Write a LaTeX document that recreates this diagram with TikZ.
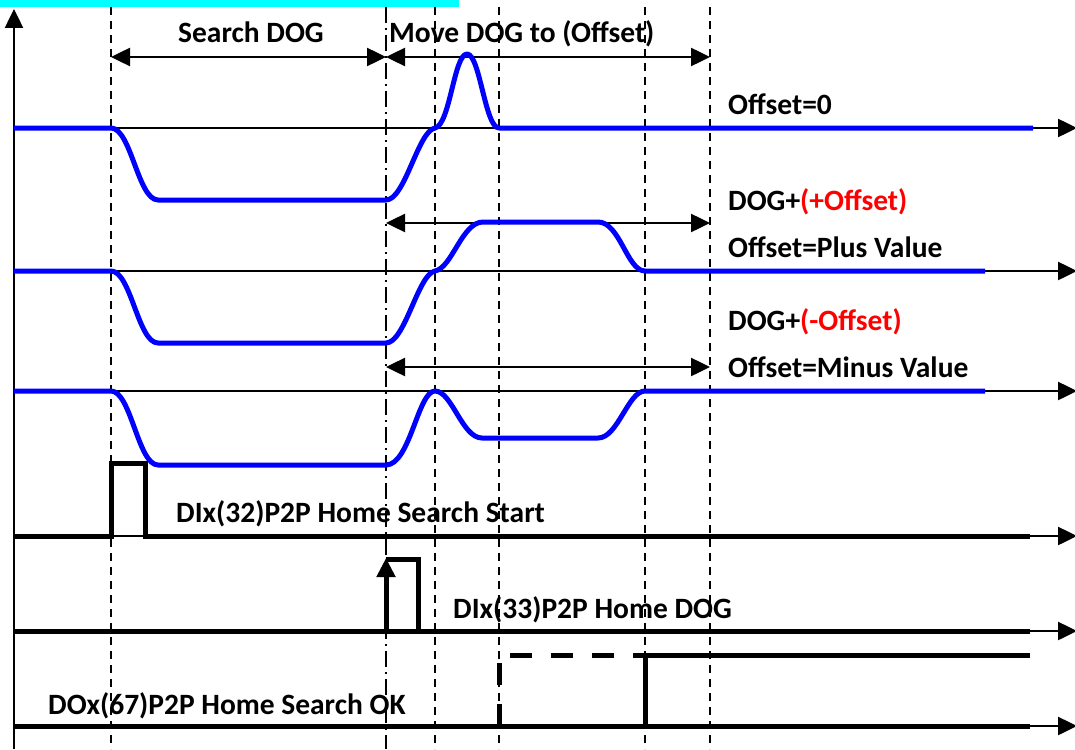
\documentclass[tikz,border=0pt]{standalone}
\usepackage{fontspec}
\setmainfont{Carlito}
\usetikzlibrary{arrows.meta}
\definecolor{sigblue}{RGB}{0,0,255}
\definecolor{topcyan}{RGB}{0,255,255}
\definecolor{offred}{RGB}{255,0,0}
\begin{document}
\begin{tikzpicture}[x=1pt,y=-1pt,
  lbl/.style={anchor=base west, inner sep=0pt, font=\fontsize{29.5}{34}\selectfont\bfseries},
  guide/.style={line width=1.8pt, dash pattern=on 8pt off 6pt},
  guidedd/.style={line width=1.8pt, dash pattern=on 16pt off 5pt on 2pt off 5pt},
  axisline/.style={line width=2.5pt, -{Triangle[length=19pt,width=18pt]}},
  wave/.style={line width=5pt, sigblue, line join=round},
  sig/.style={line width=5pt, black, line join=miter},
  spanarrow/.style={line width=2.5pt, {Triangle[length=19pt,width=18pt]}-{Triangle[length=19pt,width=18pt]}}
]
\useasboundingbox (0,0) rectangle (1075,749);
\fill[topcyan] (0,0) rectangle (459,7);

% time marks
\foreach \n/\x in {a/111,b/386,c/435,d/499,e/645,f/710} {
  \coordinate (\n t) at (\x,7);
  \coordinate (\n b) at (\x,749);
  \coordinate (\n s) at (\x,57);
}
\coordinate (bp) at (386,223);
\coordinate (fp) at (710,223);
\coordinate (bm) at (386,367);
\coordinate (fm) at (710,367);

% labels
\node[lbl] (lsearch) at (178,43) {Search DOG};
\node[lbl] (lmove) at (389,43) {Move DOG to (Offset)};
\node[lbl] (loff0) at (728,114) {Offset=0};
\node[lbl] (ldogp) at (728,210) {DOG+\textcolor{offred}{(+Offset)}};
\node[lbl] (loffp) at (728,257) {Offset=Plus Value};
\node[lbl] (ldogm) at (728,330) {DOG+\textcolor{offred}{(-Offset)}};
\node[lbl] (loffm) at (728,377) {Offset=Minus Value};
\node[lbl] (lstart) at (176,522) {DIx(32)P2P Home Search Start};
\node[lbl] (ldog) at (453,618) {DIx(33)P2P Home DOG};
\node[lbl] (lok) at (48,714) {DOx(67)P2P Home Search OK};

% guides
\draw[guide] (at) -- (ab);
\draw[guidedd] (bt) -- (bb);
\draw[guide] (ct) -- (cb);
\draw[guide] (dt) -- (db);
\draw[guide] (et) -- (eb);
\draw[guide] (ft) -- (fb);

% spans
\draw[spanarrow] (as) -- (bs);
\draw[spanarrow] (bs) -- (fs);
\draw[spanarrow] (bp) -- (fp);
\draw[spanarrow] (bm) -- (fm);

% axes
\coordinate (o) at (14,749);
\coordinate (otop) at (14,9);
\draw[axisline] (o) -- (otop);
\foreach \n/\y in {r1/128,r2/271,r3/391,r4/536,r5/631,r6/726} {
  \coordinate (\n s) at (14,\y);
  \coordinate (\n e) at (1077,\y);
  \draw[axisline] (\n s) -- (\n e);
}

% waveforms
\draw[wave] (r1s) -- (111,128) .. controls (131,128) and (138,200) .. (158,200)
  -- (386,200) .. controls (405,200) and (418,131) .. (435,128)
  .. controls (450,125) and (454,54) .. (467,54)
  .. controls (480,54) and (485,128) .. (499,128) -- (1033,128);
\draw[wave] (r2s) -- (111,271) .. controls (131,271) and (138,343) .. (158,343)
  -- (386,343) .. controls (405,343) and (418,274) .. (435,271)
  .. controls (452,268) and (462,222) .. (483,222)
  -- (598,222) .. controls (620,222) and (627,271) .. (645,271) -- (985,271);
\draw[wave] (r3s) -- (111,391) .. controls (131,391) and (138,465) .. (158,465)
  -- (386,465) .. controls (410,465) and (418,391) .. (435,391)
  .. controls (452,391) and (462,438) .. (482,438)
  -- (598,438) .. controls (618,438) and (628,391) .. (645,391) -- (985,391);

% digital signals
\draw[sig] (r4s) -- (111,536) -- (111,463) -- (145,463) -- (145,536) -- (1030,536);
\draw[sig] (r5s) -- (1030,631);
\draw[sig, -{Triangle[length=19pt,width=18pt]}] (386,631) -- (386,558);
\draw[sig] (386,559) -- (418,559) -- (418,631);
\draw[sig] (r6s) -- (1030,726);
\draw[sig, dash pattern=on 22pt off 19pt] (499,726) -- (499,655) -- (645,655);
\draw[sig] (645,726) -- (645,655) -- (1030,655);
\end{tikzpicture}
\end{document}
